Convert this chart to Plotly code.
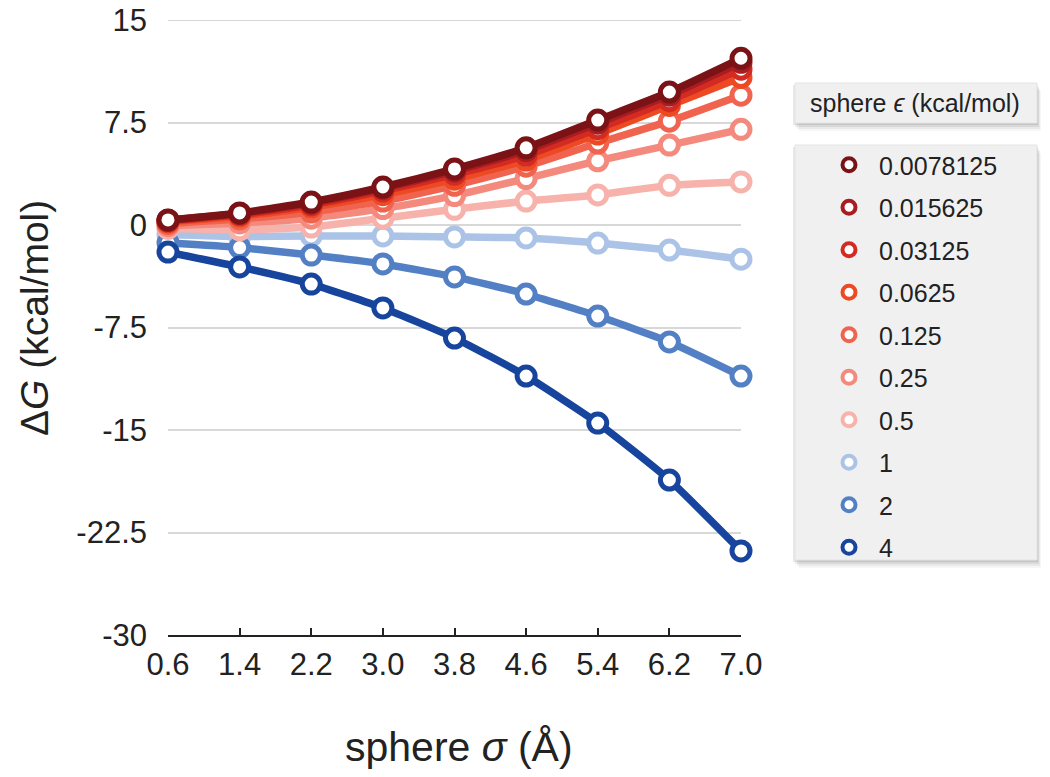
import plotly.graph_objects as go

sigma = [0.6, 1.4, 2.2, 3.0, 3.8, 4.6, 5.4, 6.2, 7.0]
eps_labels = ["0.0078125", "0.015625", "0.03125", "0.0625", "0.125", "0.25", "0.5", "1", "2", "4"]
dG_0p0078125 = [0.37, 0.88, 1.68, 2.78, 4.10, 5.65, 7.68, 9.73, 12.2]
dG_0p015625 = [0.34, 0.84, 1.60, 2.68, 3.96, 5.45, 7.45, 9.50, 11.9]
dG_0p03125 = [0.29, 0.76, 1.48, 2.50, 3.70, 5.10, 7.05, 9.10, 11.4]
dG_0p0625 = [0.22, 0.65, 1.30, 2.22, 3.35, 4.75, 6.65, 8.75, 10.8]
dG_0p125 = [0.10, 0.45, 0.95, 1.75, 2.90, 4.30, 6.00, 7.60, 9.50]
dG_0p25 = [-0.05, 0.15, 0.50, 1.20, 2.15, 3.40, 4.70, 5.85, 7.00]
dG_0p5 = [-0.25, -0.35, -0.15, 0.50, 1.15, 1.75, 2.20, 2.90, 3.15]
dG_1 = [-0.70, -0.85, -0.80, -0.80, -0.87, -0.95, -1.32, -1.83, -2.50]
dG_2 = [-1.30, -1.65, -2.20, -2.85, -3.80, -5.05, -6.66, -8.56, -11.05]
dG_4 = [-1.98, -3.07, -4.32, -6.07, -8.27, -11.05, -14.49, -18.66, -23.85]
series = [dG_0p0078125, dG_0p015625, dG_0p03125, dG_0p0625, dG_0p125,
          dG_0p25, dG_0p5, dG_1, dG_2, dG_4]
colors = ["#7b1216", "#a81d20", "#d32a22", "#ed4a23", "#f0634f",
          "#f38a7d", "#f7b2ab", "#abc3e6", "#5380c5", "#17449d"]
yticks = [15, 7.5, 0, -7.5, -15, -22.5, -30]
ytick_text = ["15", "7.5", "0", "-7.5", "-15", "-22.5", "-30"]

fig = go.Figure()
order = [7, 8, 9, 6, 5, 4, 3, 2, 1, 0]
for i in order:
    fig.add_trace(go.Scatter(
        x=sigma, y=series[i], mode="lines+markers",
        line=dict(color=colors[i], width=7.5, shape="spline", smoothing=0.5),
        marker=dict(size=18, color="white", line=dict(color=colors[i], width=5)),
        cliponaxis=False, showlegend=False))
for i, lab in enumerate(eps_labels):
    fig.add_trace(go.Scatter(
        x=[None], y=[None], mode="markers", name=lab, legendgroup=lab,
        marker=dict(size=13, color="white", line=dict(color=colors[i], width=4))))

font = "Liberation Sans, Arial, Helvetica, sans-serif"
OFF = 0  # body margin removed by post_script
W, H = 1050, 777
L, R, T, B = 168, 309, 20, 142
pw, ph = W - L - R, H - T - B

def px2x(px):
    return (px - OFF - L) / pw

def px2y(py):
    return (H - B - (py - OFF)) / ph

shapes = []
# top gridline (plotly omits gridlines on the range edge)
shapes.append(dict(type="line", xref="paper", yref="y", x0=0, x1=1,
                   y0=yticks[0], y1=yticks[0], line=dict(color="#d8d8d8", width=2),
                   layer="below"))
for (x0, y0, x1, y1) in [(795, 83, 1037, 123), (795, 145, 1037, 560)]:
    for k, col in enumerate(["rgba(0,0,0,0.035)", "rgba(0,0,0,0.05)", "rgba(0,0,0,0.07)", "rgba(0,0,0,0.09)"]):
        off = 8 - 2 * k
        shapes.append(dict(type="rect", xref="paper", yref="paper",
                           x0=px2x(x0 + off - 4), x1=px2x(x1 + off * 0.5),
                           y0=px2y(y1 + off), y1=px2y(y0 + off),
                           fillcolor=col, line=dict(width=0), layer="above"))
    shapes.append(dict(type="rect", xref="paper", yref="paper",
                       x0=px2x(x0), x1=px2x(x1), y0=px2y(y1), y1=px2y(y0),
                       fillcolor="#f1f0f1", line=dict(color="#e4e4e4", width=1), layer="above"))

fig.update_layout(
    width=W, height=H,
    margin=dict(l=L, r=R, t=T, b=B, autoexpand=False),
    paper_bgcolor="white", plot_bgcolor="white",
    font=dict(family=font, color="#222222", size=25),
    shapes=shapes,
    showlegend=True,
    legend=dict(x=px2x(819), y=px2y(142), xanchor="left", yanchor="top",
                bgcolor="rgba(0,0,0,0)", borderwidth=0,
                font=dict(size=25, family=font, color="#222222"),
                tracegroupgap=7, itemwidth=50),
    xaxis=dict(range=[0.6, 7.0], tickvals=sigma, tickformat=".1f",
               showgrid=False, zeroline=False, showline=True, linecolor="#222222",
               linewidth=1.5, ticks="inside", ticklen=7, tickcolor="#222222",
               tickwidth=1.5, tickfont=dict(size=31), ticklabelstandoff=1),
    yaxis=dict(range=[-30, 15], tickvals=yticks, ticktext=ytick_text,
               showgrid=True, gridcolor="#d8d8d8", gridwidth=2, zeroline=False,
               showline=False, ticks="", tickfont=dict(size=31), ticklabelstandoff=20,
               ticklabeloverflow="allow"),
    annotations=[
        dict(text="sphere <i>σ</i> (Å)", xref="paper", yref="paper",
             x=px2x(459), y=px2y(747), showarrow=False, xanchor="center", yanchor="middle",
             font=dict(size=41, family=font, color="#222222")),
        dict(text="Δ<i>G</i> (kcal/mol)", xref="paper", yref="paper",
             x=px2x(35), y=px2y(318), showarrow=False, textangle=-90,
             xanchor="center", yanchor="middle",
             font=dict(size=39, family=font, color="#222222")),
        dict(text="sphere <i>ϵ</i> (kcal/mol)", xref="paper", yref="paper",
             x=px2x(915), y=px2y(103), showarrow=False, xanchor="center", yanchor="middle",
             font=dict(size=25, family=font, color="#222222")),
    ],
)

fig.write_html("out.html", config={"displayModeBar": False},
               post_script="document.body.style.margin='0';")
